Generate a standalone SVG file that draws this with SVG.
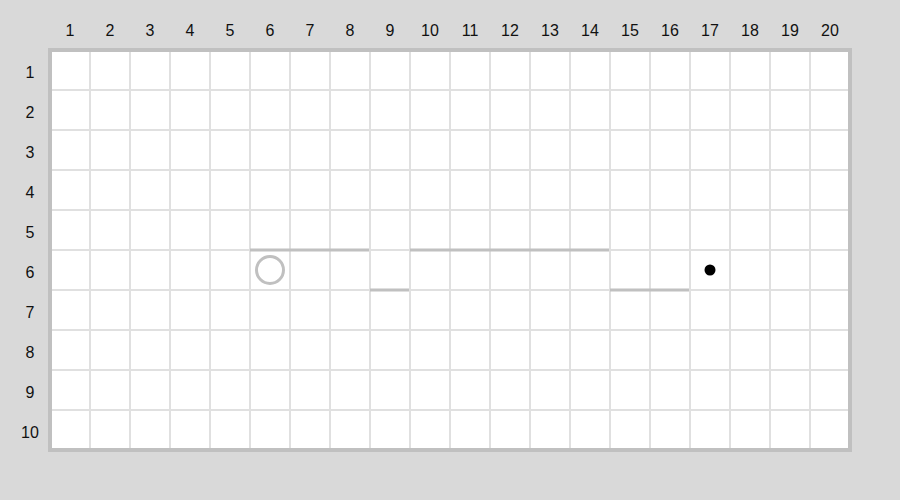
<svg xmlns="http://www.w3.org/2000/svg" width="900" height="500" viewBox="0 0 900 500">
<style>
.lbl{font-family:"Liberation Sans",Arial,sans-serif;font-size:16px;fill:#111;text-anchor:middle;dominant-baseline:central}
.grid line{stroke:#e0e0e0;stroke-width:2}
.wall{stroke:#c0c0c0;stroke-width:3}
</style>
<rect width="900" height="500" fill="#d9d9d9"/>
<rect x="50" y="50" width="800" height="400" fill="#fff"/>
<g class="grid">
<line x1="90" y1="50" x2="90" y2="450"/><line x1="130" y1="50" x2="130" y2="450"/><line x1="170" y1="50" x2="170" y2="450"/><line x1="210" y1="50" x2="210" y2="450"/><line x1="250" y1="50" x2="250" y2="450"/><line x1="290" y1="50" x2="290" y2="450"/><line x1="330" y1="50" x2="330" y2="450"/><line x1="370" y1="50" x2="370" y2="450"/><line x1="410" y1="50" x2="410" y2="450"/><line x1="450" y1="50" x2="450" y2="450"/><line x1="490" y1="50" x2="490" y2="450"/><line x1="530" y1="50" x2="530" y2="450"/><line x1="570" y1="50" x2="570" y2="450"/><line x1="610" y1="50" x2="610" y2="450"/><line x1="650" y1="50" x2="650" y2="450"/><line x1="690" y1="50" x2="690" y2="450"/><line x1="730" y1="50" x2="730" y2="450"/><line x1="770" y1="50" x2="770" y2="450"/><line x1="810" y1="50" x2="810" y2="450"/>
<line x1="50" y1="90" x2="850" y2="90"/><line x1="50" y1="130" x2="850" y2="130"/><line x1="50" y1="170" x2="850" y2="170"/><line x1="50" y1="210" x2="850" y2="210"/><line x1="50" y1="250" x2="850" y2="250"/><line x1="50" y1="290" x2="850" y2="290"/><line x1="50" y1="330" x2="850" y2="330"/><line x1="50" y1="370" x2="850" y2="370"/><line x1="50" y1="410" x2="850" y2="410"/>
</g>
<rect x="50" y="50" width="800" height="400" fill="none" stroke="#c0c0c0" stroke-width="4"/>
<g id="col-labels">
<text class="lbl" x="70" y="30">1</text><text class="lbl" x="110" y="30">2</text><text class="lbl" x="150" y="30">3</text><text class="lbl" x="190" y="30">4</text><text class="lbl" x="230" y="30">5</text><text class="lbl" x="270" y="30">6</text><text class="lbl" x="310" y="30">7</text><text class="lbl" x="350" y="30">8</text><text class="lbl" x="390" y="30">9</text><text class="lbl" x="430" y="30">10</text><text class="lbl" x="470" y="30">11</text><text class="lbl" x="510" y="30">12</text><text class="lbl" x="550" y="30">13</text><text class="lbl" x="590" y="30">14</text><text class="lbl" x="630" y="30">15</text><text class="lbl" x="670" y="30">16</text><text class="lbl" x="710" y="30">17</text><text class="lbl" x="750" y="30">18</text><text class="lbl" x="790" y="30">19</text><text class="lbl" x="830" y="30">20</text>
</g>
<g id="row-labels">
<text class="lbl" x="30" y="72">1</text><text class="lbl" x="30" y="112">2</text><text class="lbl" x="30" y="152">3</text><text class="lbl" x="30" y="192">4</text><text class="lbl" x="30" y="232">5</text><text class="lbl" x="30" y="272">6</text><text class="lbl" x="30" y="312">7</text><text class="lbl" x="30" y="352">8</text><text class="lbl" x="30" y="392">9</text><text class="lbl" x="30" y="432">10</text>
</g>
<g id="walls">
<line class="wall" x1="250" y1="250" x2="369" y2="250"/>
<line class="wall" x1="370" y1="290" x2="409" y2="290"/>
<line class="wall" x1="410" y1="250" x2="609" y2="250"/>
<line class="wall" x1="610" y1="290" x2="689" y2="290"/>
</g>
<g id="start"><circle cx="270" cy="270" r="13.5" fill="none" stroke="#c0c0c0" stroke-width="3"/></g>
<g id="goal"><circle cx="710" cy="270" r="5.5" fill="#000"/></g>
</svg>
